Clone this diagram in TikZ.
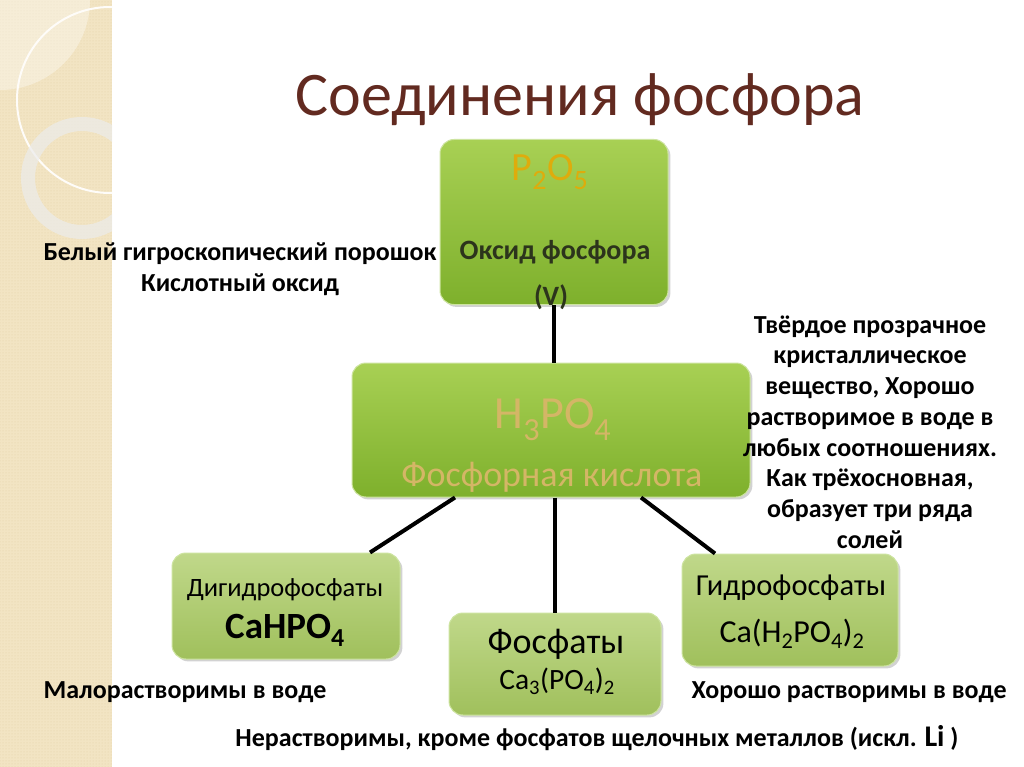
\documentclass[tikz,border=0pt]{standalone}
\usepackage{xcolor}
\usepackage{tikz}
\usepackage{fontspec}
\setmainfont{Carlito}
\usetikzlibrary{shadows,patterns}
\definecolor{titlebrown}{RGB}{98,42,32}
\definecolor{stripbeige}{RGB}{242,228,195}
\definecolor{stripdots}{RGB}{228,210,165}
\definecolor{brighttop}{RGB}{168,208,84}
\definecolor{brightbot}{RGB}{126,176,44}
\definecolor{paletop}{RGB}{192,216,138}
\definecolor{palebot}{RGB}{160,192,92}
\definecolor{boxedge}{RGB}{205,228,160}
\definecolor{goldtext}{RGB}{222,172,12}
\definecolor{tantext}{RGB}{212,182,102}
\definecolor{darkgreentext}{RGB}{44,52,28}

\begin{document}
\begin{tikzpicture}[x=1pt,y=-1pt]
    \tikzstyle{bright}=[rounded corners=14pt, draw=boxedge, line width=1pt, top color=brighttop, bottom color=brightbot, drop shadow={opacity=.35}]
    \tikzstyle{pale}=[rounded corners=14pt, draw=boxedge, line width=1pt, top color=paletop, bottom color=palebot, drop shadow={opacity=.35}]
    \tikzstyle{note}=[font=\bfseries\fontsize{26}{30.7}\selectfont, align=center]
    \tikzstyle{link}=[line width=4pt, black]
    \useasboundingbox (0,0) rectangle (1024,767);
    \fill[white] (0,0) rectangle (1024,767);
    % beige strip
    \fill[stripbeige] (0,0) rectangle (112,767);
    \fill[pattern=dots, pattern color=stripdots] (0,0) rectangle (112,767);
    \begin{scope}
        \clip (0,0) rectangle (112,767);
        \fill[white, opacity=.35] (0,0) circle (90);
        \draw[white!90!stripbeige, line width=2pt] (110,100) circle (93);
        \draw[white!85!gray, opacity=.7, line width=14pt] (82,178) circle (54);
    \end{scope}

    \node[font=\fontsize{62}{64}\selectfont, text=titlebrown] (title) at (580,100) {Соединения фосфора};

    \node[bright, minimum width=228, minimum height=165] (oxide) at (554,222) {};
    \node[bright, minimum width=398, minimum height=134] (acid) at (551,430) {};
    \node[pale, minimum width=228, minimum height=106] (dihyd) at (286,606) {};
    \node[pale, minimum width=212, minimum height=102] (phos) at (555,664) {};
    \node[pale, minimum width=216, minimum height=112] (hydro) at (790,610) {};

    \draw[link] (oxide.south) -- (oxide.south |- acid.north);
    \draw[link] ([xshift=-96pt]acid.south) -- ([xshift=84pt]dihyd.north);
    \draw[link] (phos.north |- acid.south) -- (phos.north);
    \draw[link] ([xshift=90pt]acid.south) -- ([xshift=-75pt]hydro.north);

    \node[font=\fontsize{40}{42}\selectfont, text=goldtext] (p2o5) at (550,172) {P\textsubscript{2}O\textsubscript{5}};
    \node[font=\bfseries\fontsize{28}{30}\selectfont, text=darkgreentext] (oxname) at (555,252) {Оксид фосфора};
    \node[font=\bfseries\fontsize{28}{30}\selectfont, text=darkgreentext] (oxval) at (551,297) {(V)};

    \node[font=\fontsize{46}{48}\selectfont, text=tantext] (h3po4) at (553,420) {H\textsubscript{3}PO\textsubscript{4}};
    \node[font=\fontsize{36}{38}\selectfont, text=tantext] (acname) at (552,477) {Фосфорная кислота};

    \node[font=\fontsize{26.5}{29}\selectfont] (dihname) at (285,590) {Дигидрофосфаты};
    \node[font=\bfseries\fontsize{37}{39}\selectfont] (dihform) at (285,630) {CaHPO\textsubscript{4}};
    \node[font=\fontsize{36}{38}\selectfont] (phosname) at (556,644) {Фосфаты};
    \node[font=\fontsize{29.5}{31}\selectfont] (phosform) at (557,681) {Ca\textsubscript{3}(PO\textsubscript{4})\textsubscript{2}};
    \node[font=\fontsize{30.5}{32}\selectfont] (hydname) at (791,588) {Гидрофосфаты};
    \node[font=\fontsize{32}{34}\selectfont] (hydform) at (792,634) {Ca(H\textsubscript{2}PO\textsubscript{4})\textsubscript{2}};

    \node[note] (oxnote) at (240,269) {Белый гигроскопический порошок\\Кислотный оксид};
    \node[note] (acnote) at (870,432) {Твёрдое прозрачное\\кристаллическое\\вещество, Хорошо\\растворимое в воде в\\любых соотношениях.\\Как трёхосновная,\\образует три ряда\\солей};
    \node[note] (dihnote) at (185,692) {Малорастворимы в воде};
    \node[note] (hydnote) at (849,692) {Хорошо растворимы в воде};
    \node[note] (phosnote) at (597,738) {Нерастворимы, кроме фосфатов щелочных металлов (искл. {\fontsize{30}{32}\selectfont Li} )};
\end{tikzpicture}
\end{document}
